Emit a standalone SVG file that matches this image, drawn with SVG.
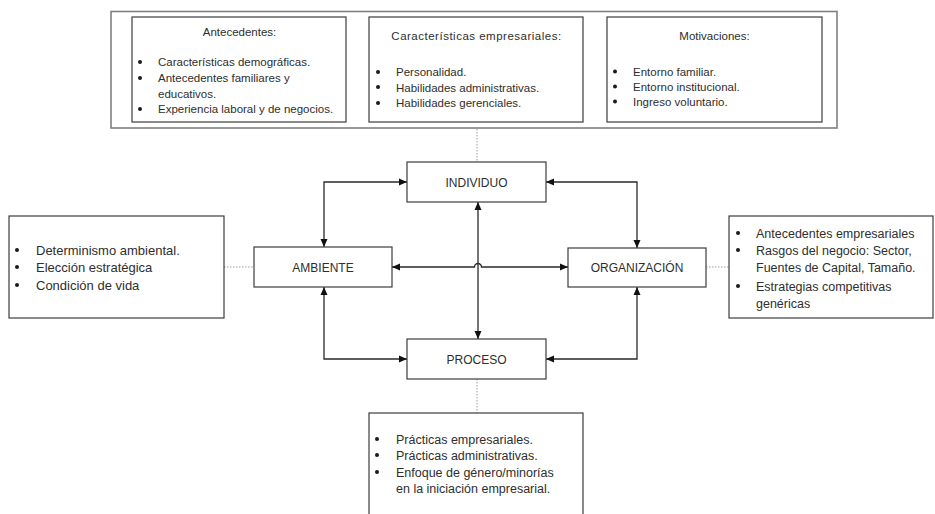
<svg xmlns="http://www.w3.org/2000/svg" width="935" height="514" viewBox="0 0 935 514">
  <defs>
    <marker id="arrow" viewBox="0 0 8 8" refX="8" refY="4" markerWidth="8" markerHeight="8" markerUnits="userSpaceOnUse" orient="auto-start-reverse">
      <path d="M0,0.5 L8,4 L0,7.5 z" fill="#111"/>
    </marker>
    <style>
      .box { fill: #fff; stroke: #3c3c3c; stroke-width: 1.2; }
      .frame { fill: #fff; stroke: #808080; stroke-width: 1.6; }
      .txt { font-family: "Liberation Sans", Arial, sans-serif; fill: #2e2e2e; }
      .s11 { font-size: 11.5px; }
      .s12 { font-size: 12px; }
      .s125 { font-size: 12.5px; }
      .s13 { font-size: 13px; }
      .mid { text-anchor: middle; }
      .dot { fill: #1a1a1a; }
      .link { fill: none; stroke: #2a2a2a; stroke-width: 1.3; marker-start: url(#arrow); marker-end: url(#arrow); }
      .note { fill: none; stroke: #9a9a9a; stroke-width: 1; stroke-dasharray: 1.5 1.5; }
    </style>
  </defs>

  <rect width="935" height="514" fill="#fff"/>

  <!-- dotted links from the notes to the nodes -->
  <g id="notes-links">
    <line class="note" x1="477" y1="129" x2="477" y2="162"/>
    <line class="note" x1="224" y1="267" x2="254" y2="267"/>
    <line class="note" x1="706" y1="267" x2="729" y2="267"/>
    <line class="note" x1="477" y1="379" x2="477" y2="413"/>
  </g>

  <!-- top panel with three lists -->
  <g id="top-panel">
    <rect class="frame" x="111" y="11.5" width="726" height="116.5"/>

    <g id="antecedentes">
      <rect class="box" x="132" y="17" width="214" height="105"/>
      <text class="txt s11 mid" x="239.5" y="36">Antecedentes:</text>
      <circle class="dot" cx="140" cy="62" r="2"/>
      <circle class="dot" cx="140" cy="78" r="2"/>
      <circle class="dot" cx="140" cy="109" r="2"/>
      <text class="txt s11" x="158" y="66">Características demográficas.</text>
      <text class="txt s11" x="158" y="82">Antecedentes familiares y</text>
      <text class="txt s11" x="158" y="97.5">educativos.</text>
      <text class="txt s11" x="158" y="113">Experiencia laboral y de negocios.</text>
    </g>

    <g id="caracteristicas">
      <rect class="box" x="369" y="17" width="214" height="105"/>
      <text class="txt s11 mid" x="476.5" y="40" letter-spacing="0.5">Características empresariales:</text>
      <circle class="dot" cx="378" cy="72" r="2"/>
      <circle class="dot" cx="378" cy="87" r="2"/>
      <circle class="dot" cx="378" cy="103" r="2"/>
      <text class="txt s11" x="396" y="76">Personalidad.</text>
      <text class="txt s11" x="396" y="91.5">Habilidades administrativas.</text>
      <text class="txt s11" x="396" y="107">Habilidades gerenciales.</text>
    </g>

    <g id="motivaciones">
      <rect class="box" x="607" y="17" width="215" height="105"/>
      <text class="txt s11 mid" x="714.5" y="40">Motivaciones:</text>
      <circle class="dot" cx="615" cy="71.5" r="2"/>
      <circle class="dot" cx="615" cy="86.5" r="2"/>
      <circle class="dot" cx="615" cy="101.5" r="2"/>
      <text class="txt s11" x="633" y="75.5">Entorno familiar.</text>
      <text class="txt s11" x="633" y="90.5">Entorno institucional.</text>
      <text class="txt s11" x="633" y="105.5">Ingreso voluntario.</text>
    </g>
  </g>

  <!-- side notes -->
  <g id="note-ambiente">
    <rect class="box" x="9" y="216" width="215" height="102"/>
    <circle class="dot" cx="17" cy="250" r="2"/>
    <circle class="dot" cx="17" cy="267" r="2"/>
    <circle class="dot" cx="17" cy="285" r="2"/>
    <text class="txt s13" x="36" y="254.5">Determinismo ambiental.</text>
    <text class="txt s13" x="36" y="271.5">Elección estratégica</text>
    <text class="txt s13" x="36" y="289.5">Condición de vida</text>
  </g>

  <g id="note-organizacion">
    <rect class="box" x="729" y="216" width="204" height="102"/>
    <circle class="dot" cx="738" cy="233" r="2"/>
    <circle class="dot" cx="738" cy="250" r="2"/>
    <circle class="dot" cx="738" cy="286" r="2"/>
    <text class="txt s125" x="756" y="237.5">Antecedentes empresariales</text>
    <text class="txt s125" x="756" y="254.5">Rasgos del negocio: Sector,</text>
    <text class="txt s125" x="756" y="271.5">Fuentes de Capital, Tamaño.</text>
    <text class="txt s125" x="756" y="290.5">Estrategias competitivas</text>
    <text class="txt s125" x="756" y="307.5">genéricas</text>
  </g>

  <g id="note-proceso">
    <rect class="box" x="369" y="413" width="214" height="110"/>
    <circle class="dot" cx="377" cy="439" r="2"/>
    <circle class="dot" cx="377" cy="455" r="2"/>
    <circle class="dot" cx="377" cy="472" r="2"/>
    <text class="txt s125" x="396" y="443.5">Prácticas empresariales.</text>
    <text class="txt s125" x="396" y="459.5">Prácticas administrativas.</text>
    <text class="txt s125" x="396" y="476.5">Enfoque de género/minorías</text>
    <text class="txt s125" x="396" y="492.5">en la iniciación empresarial.</text>
  </g>

  <!-- connectors between the four nodes -->
  <g id="connectors">
    <path class="link" d="M407,182 H324 V247"/>
    <path class="link" d="M546,182 H637 V248"/>
    <path class="link" d="M324,287 V359 H407"/>
    <path class="link" d="M637,287 V359 H546"/>
    <path class="link" d="M478,202 V339"/>
    <path class="link" d="M392,267 H474.5 A3.5,3.5 0 0 1 481.5,267 H568"/>
  </g>

  <!-- nodes -->
  <g id="individuo">
    <rect class="box" x="407" y="162" width="139" height="40"/>
    <text class="txt s12 mid" x="476.5" y="186.5">INDIVIDUO</text>
  </g>
  <g id="ambiente">
    <rect class="box" x="254" y="247" width="138" height="40"/>
    <text class="txt s12 mid" x="323" y="271.5">AMBIENTE</text>
  </g>
  <g id="organizacion">
    <rect class="box" x="568" y="248" width="138" height="39"/>
    <text class="txt s12 mid" x="637" y="271.5">ORGANIZACIÓN</text>
  </g>
  <g id="proceso">
    <rect class="box" x="407" y="339" width="139" height="40"/>
    <text class="txt s12 mid" x="476.5" y="363.5">PROCESO</text>
  </g>
</svg>
